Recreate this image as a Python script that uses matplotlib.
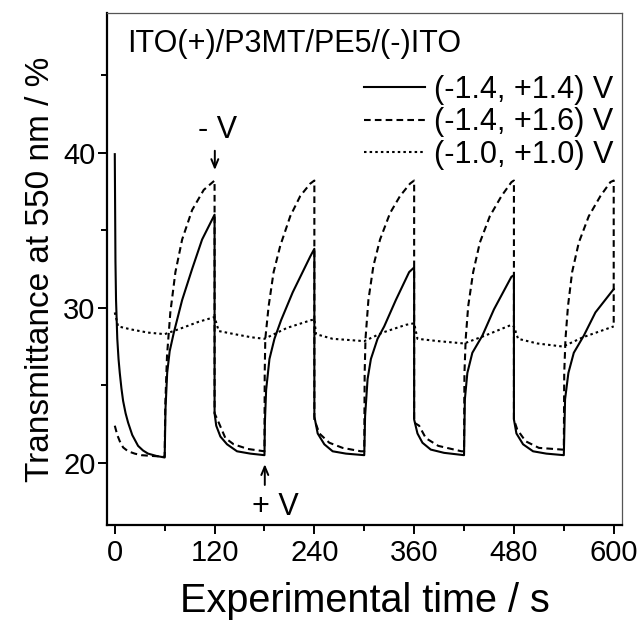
import matplotlib
matplotlib.use("Agg")
import matplotlib.pyplot as plt
from matplotlib.ticker import MultipleLocator

plt.rcParams["font.family"] = ["Liberation Sans", "DejaVu Sans"]

# (-1.4, +1.4) V
t_a = [0, 0.8, 1.5, 3, 4.5, 6, 8, 10, 13, 16, 21, 28, 34, 40, 50, 60,
       61, 63, 66, 71, 81, 93, 105, 120,
       120, 122, 127, 135, 147, 163, 180,
       180.5, 182, 186, 192, 200, 214, 235, 240,
       240, 244, 252, 262, 278, 300,
       301, 304, 308, 316, 324, 338, 354, 360,
       360, 364, 370, 380, 396, 420,
       421, 424, 430, 442, 456, 477, 480,
       480, 483, 491, 503, 519, 540,
       541.5, 545.5, 552, 564, 578, 597, 600]
y_a = [39.9, 33.0, 30.5, 28.0, 26.7, 25.8, 24.8, 24.0, 23.2, 22.6, 21.8, 21.1, 20.8, 20.6, 20.45, 20.35,
       23.5, 25.8, 27.2, 28.4, 30.5, 32.5, 34.4, 36.0,
       23.2, 22.4, 21.7, 21.2, 20.75, 20.6, 20.5,
       22.6, 24.7, 26.7, 28.0, 29.2, 31.0, 33.3, 33.8,
       23.0, 21.9, 21.2, 20.75, 20.6, 20.5,
       23.0, 25.4, 26.7, 28.0, 28.8, 30.5, 32.3, 32.6,
       22.8, 21.9, 21.3, 20.86, 20.65, 20.5,
       24.1, 25.8, 27.1, 28.2, 29.9, 32.0, 32.1,
       22.8, 21.9, 21.2, 20.75, 20.6, 20.5,
       24.1, 25.8, 27.1, 28.2, 29.7, 31.0, 31.2]

# (-1.4, +1.6) V
t_b = [0, 3, 6, 10, 16, 24, 32, 45, 60,
       60.7, 62.8, 66.8, 72.9, 81, 93, 107, 120,
       120, 125, 133, 143, 160, 180,
       180.3, 181, 185, 191, 199, 211, 223, 235, 240,
       240, 246, 258, 274, 296, 300,
       300.5, 301.5, 305, 311, 319, 331, 343, 355, 360,
       360, 366, 374, 389, 417, 420,
       420.5, 422, 425, 431, 439, 451, 465, 477, 480,
       480, 484, 494, 510, 538, 540,
       540.5, 542, 545, 550, 558, 570, 584, 596, 600,
       600]
y_b = [22.4, 21.8, 21.4, 21.0, 20.75, 20.6, 20.5, 20.45, 20.4,
       23.7, 26.9, 29.7, 32.3, 34.4, 36.3, 37.6, 38.2,
       23.2, 22.6, 21.6, 21.2, 20.9, 20.75,
       25.8, 28.0, 30.1, 32.3, 34.0, 35.9, 37.2, 38.0, 38.2,
       22.8, 21.9, 21.3, 20.97, 20.75, 20.75,
       25.8, 28.0, 30.5, 32.7, 34.4, 36.1, 37.2, 38.0, 38.2,
       22.6, 22.4, 21.6, 21.1, 20.75, 20.75,
       25.8, 28.0, 30.1, 32.3, 34.2, 35.9, 37.2, 38.1, 38.2,
       22.8, 22.15, 21.4, 20.97, 20.86, 20.86,
       25.8, 28.0, 30.1, 32.3, 34.2, 35.9, 37.2, 38.1, 38.2,
       29.0]

# (-1.0, +1.0) V
t_c = [0, 4, 20, 40, 60, 81, 101, 120,
       125, 144, 164, 180, 207, 236, 240,
       242, 262, 300, 322, 350, 360,
       364, 389, 420, 445, 477, 480,
       485, 508, 539, 563, 600]
y_c = [29.7, 28.8, 28.6, 28.4, 28.3, 28.7, 29.1, 29.4,
       28.5, 28.3, 28.1, 28.0, 28.7, 29.2, 29.25,
       28.3, 28.0, 27.85, 28.4, 28.9, 29.0,
       28.0, 27.85, 27.7, 28.2, 28.9, 28.8,
       28.0, 27.7, 27.5, 28.1, 28.8]

labels = ["(-1.4, +1.4) V", "(-1.4, +1.6) V", "(-1.0, +1.0) V"]
xticks = [0, 120, 240, 360, 480, 600]
yticks = [20, 30, 40]

fig = plt.figure(figsize=(6.41, 6.21), dpi=100)
ax = fig.add_axes([0.1674, 0.1546, 0.803, 0.8245])

lw = 1.5
ax.plot(t_a, y_a, color="black", lw=lw, label=labels[0])
ax.plot(t_b, y_b, color="black", lw=lw, dashes=(3.2, 2.0), label=labels[1])
ax.plot(t_c, y_c, color="black", lw=lw, dashes=(1.2, 1.5), label=labels[2])

ax.set_xlim(-9, 610)
ax.set_ylim(16, 49)
ax.set_xticks(xticks)
ax.set_yticks(yticks)
ax.xaxis.set_minor_locator(MultipleLocator(60))
ax.yaxis.set_minor_locator(MultipleLocator(5))
ax.tick_params(which="major", direction="out", length=6.5, width=1.4, labelsize=21)
ax.tick_params(axis="x", which="major", pad=3.5)
ax.tick_params(axis="y", which="major", pad=2)
ax.tick_params(which="minor", direction="out", length=4, width=1.4)

for s in ["left", "bottom"]:
    ax.spines[s].set_linewidth(1.6)
for s in ["top", "right"]:
    ax.spines[s].set_linewidth(0.9)
    ax.spines[s].set_color("#555555")

ax.set_xlabel("Experimental time / s", fontsize=28.5, labelpad=11)
ax.set_ylabel("Transmittance at 550 nm / %", fontsize=24, labelpad=5)

ax.text(0.038, 0.9244, "ITO(+)/P3MT/PE5/(-)ITO", transform=ax.transAxes,
        fontsize=22, va="baseline", ha="left")

ax.legend(loc="upper right", bbox_to_anchor=(0.984, 0.879), frameon=False,
          fontsize=22, handlelength=2.0, handletextpad=0.3, labelspacing=0.08,
          borderpad=0, borderaxespad=0)

# voltage switching marks
arrow = dict(arrowstyle="->,head_length=0.6,head_width=0.25", lw=1.4, color="black")
ax.annotate("", xy=(120.3, 38.7), xytext=(120.3, 40.3), arrowprops=arrow)
ax.text(100, 40.95, "- V", fontsize=22, ha="left", va="baseline")
ax.annotate("", xy=(180.4, 20.1), xytext=(180.4, 18.4), arrowprops=arrow)
ax.text(165, 16.65, "+ V", fontsize=22, ha="left", va="baseline")

fig.savefig("out.png", dpi=100)
